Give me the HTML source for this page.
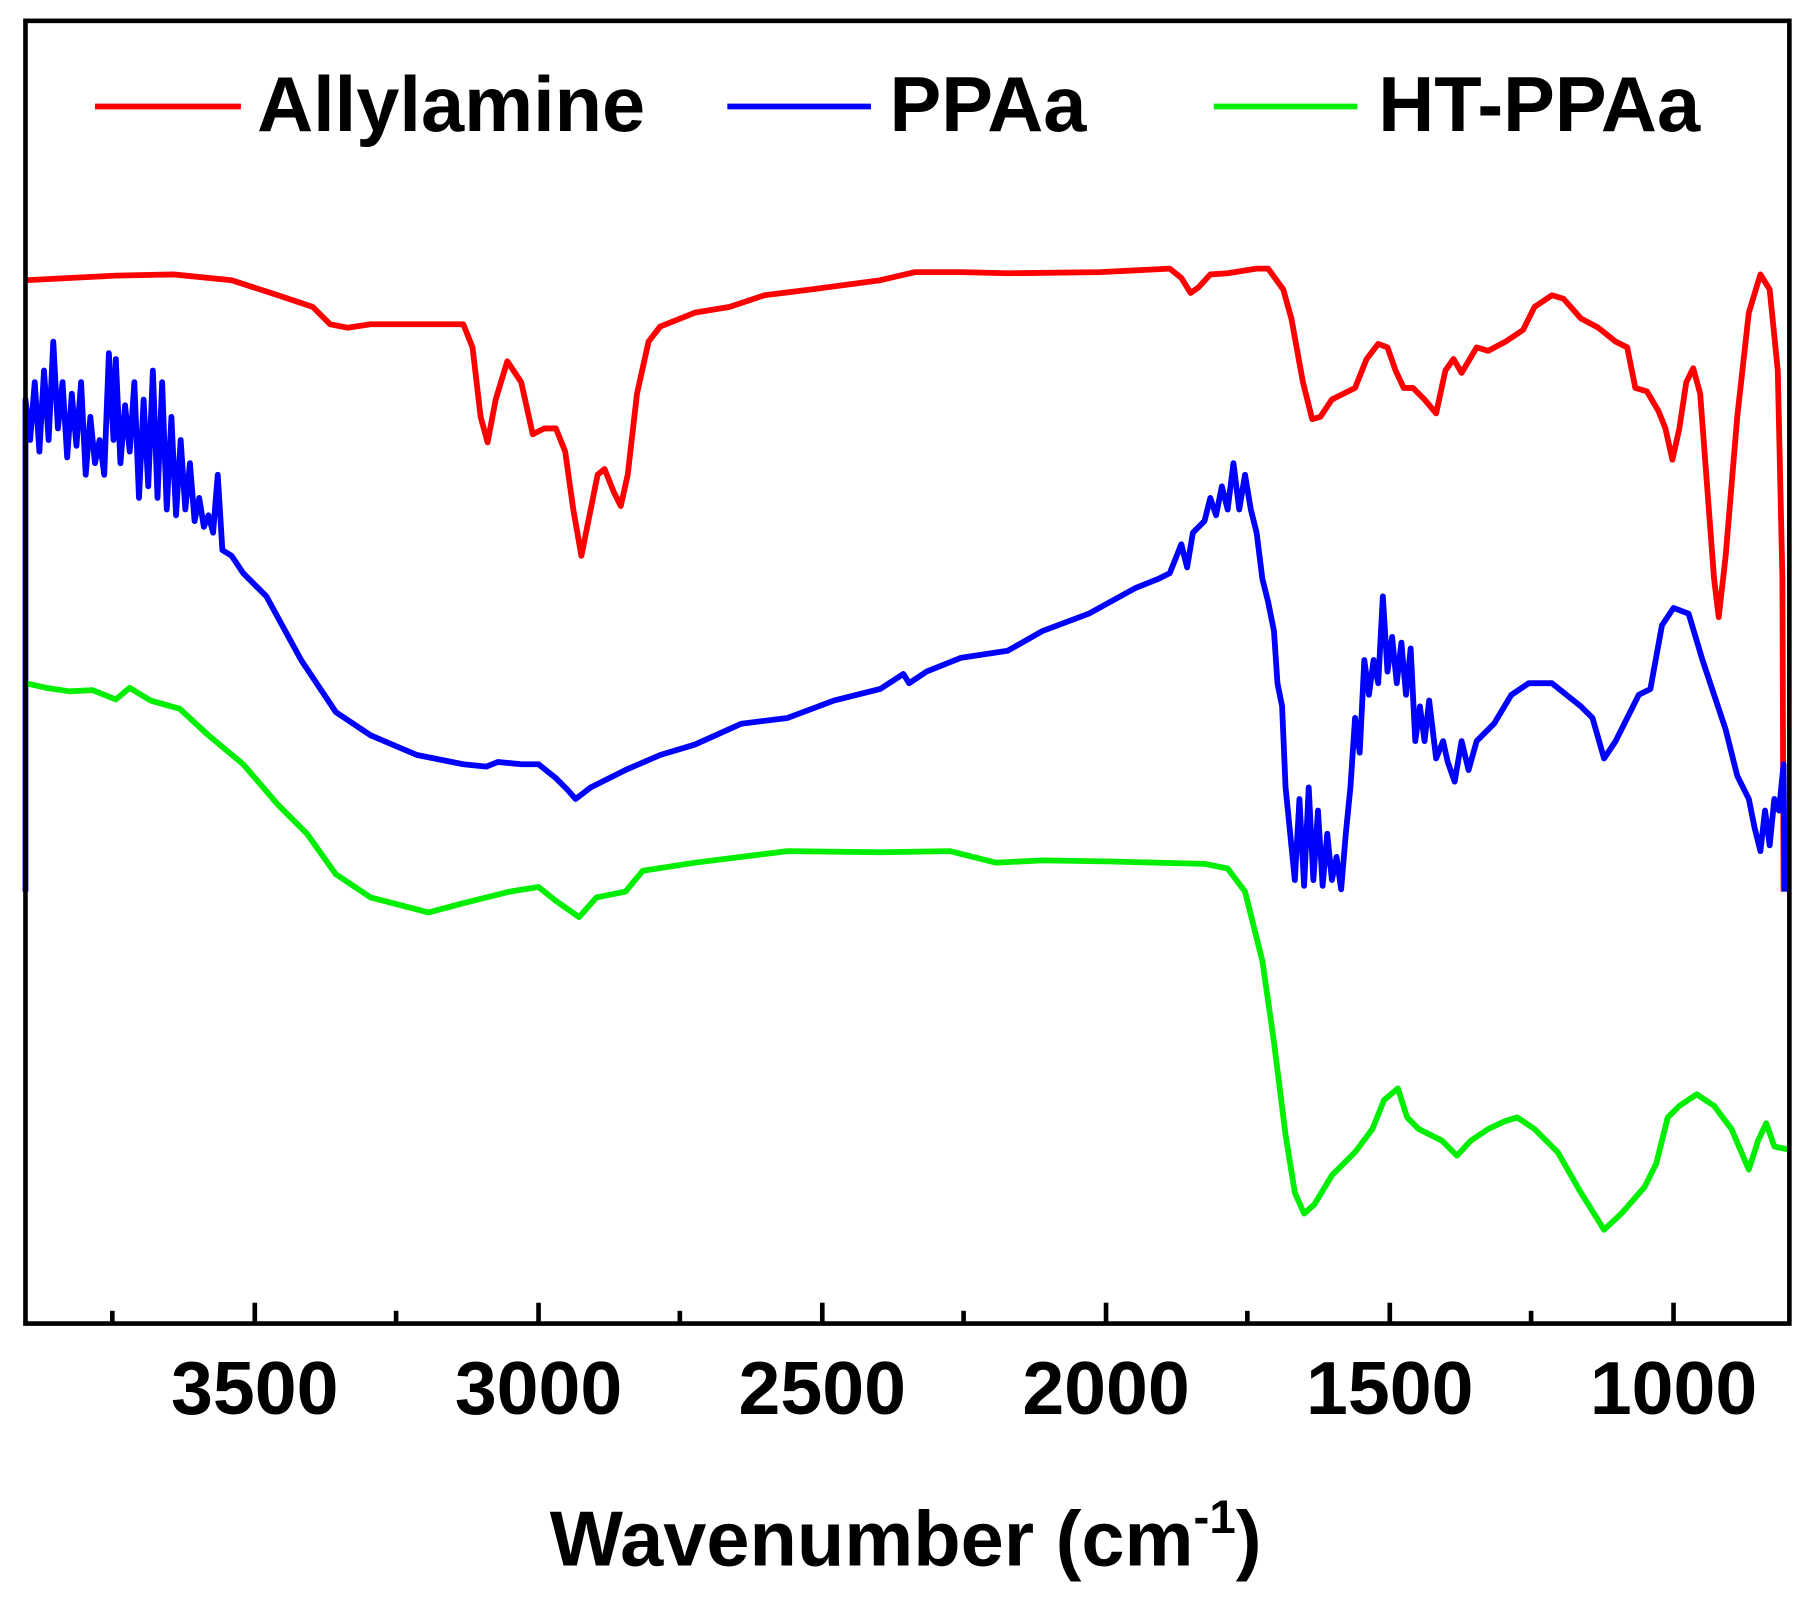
<!DOCTYPE html>
<html><head><style>html,body{margin:0;padding:0;background:#fff}svg{display:block}</style></head>
<body>
<svg width="1816" height="1598" viewBox="0 0 1568 1380" preserveAspectRatio="none" xmlns="http://www.w3.org/2000/svg">
<rect x="0" y="0" width="1568" height="1380" fill="#fff"/>
<g fill="none" stroke-width="5" stroke-linejoin="round">
<polyline stroke="#ff0000" points="22,242 100,238 150,237 200,242 240,255 270,265 285,280 300,283 320,280 400,280 408,300 415,360 421,382 428,345 438,312 450,330 460,375 470,370 480,370 488,390 495,440 502,480 508,450 516,410 522,405 530,425 536,437 542,410 550,340 560,295 570,282 600,270 630,265 660,255 700,250 760,242 790,235 830,235 870,236 950,235 1010,232 1020,240 1028,253 1035,248 1045,237 1060,236 1085,232 1095,232 1108,250 1115,275 1125,330 1133,362 1140,360 1150,345 1160,340 1170,335 1180,310 1190,297 1198,300 1205,320 1212,335 1220,335 1230,345 1240,357 1248,320 1255,310 1262,322 1275,300 1285,303 1300,295 1315,285 1325,265 1340,255 1350,258 1365,275 1380,283 1395,295 1405,300 1412,335 1422,338 1432,355 1438,370 1444,397 1450,370 1456,330 1462,318 1468,340 1474,420 1480,500 1484,533 1490,480 1500,360 1510,270 1520,237 1528,250 1535,320 1539,500 1540,770"/>
<polyline stroke="#0000ff" points="22,770 22,345 26,380 30,330 34,390 38,320 42,380 46,295 50,370 54,330 58,395 62,340 66,385 70,330 74,410 78,360 82,400 86,380 90,410 94,305 98,380 100,310 104,400 108,350 112,390 116,330 120,430 124,345 128,420 132,320 136,430 140,330 144,440 148,360 152,445 156,380 160,440 164,400 168,450 172,430 176,455 180,445 184,460 188,410 192,475 200,480 210,495 230,515 260,570 290,615 320,635 360,652 400,660 420,662 430,658 450,660 465,660 480,672 490,682 497,690 510,680 540,665 570,652 600,643 640,625 680,620 720,605 760,595 780,582 785,590 800,580 830,568 870,562 900,545 940,530 980,508 1000,500 1010,495 1020,470 1025,490 1030,460 1040,450 1045,430 1050,445 1055,420 1060,440 1065,400 1070,440 1075,410 1080,440 1085,460 1090,500 1095,520 1100,545 1103,590 1107,610 1110,680 1114,720 1118,760 1122,690 1126,765 1130,680 1134,760 1138,700 1142,765 1146,720 1150,760 1154,740 1158,768 1162,720 1166,680 1170,620 1174,650 1178,570 1182,600 1186,570 1190,590 1194,515 1198,580 1202,550 1206,590 1210,555 1214,600 1218,560 1222,640 1226,610 1230,640 1234,605 1240,655 1246,640 1250,658 1256,675 1262,640 1268,665 1275,640 1290,625 1305,600 1320,590 1340,590 1350,598 1365,610 1375,620 1385,655 1395,640 1405,620 1415,600 1425,595 1435,540 1445,525 1458,530 1470,570 1480,600 1490,630 1500,670 1510,690 1515,715 1520,735 1524,700 1528,730 1532,690 1536,700 1540,660 1541,770"/>
<polyline stroke="#00ee00" points="22,590 40,594 60,597 80,596 100,604 112,594 130,605 155,612 180,635 210,660 240,695 265,720 290,755 320,775 370,788 400,780 440,770 465,766 480,778 500,792 515,775 540,770 555,752 600,745 640,740 680,735 760,736 820,735 860,745 900,743 960,744 1040,746 1060,750 1075,770 1090,830 1100,900 1110,980 1118,1030 1126,1048 1135,1040 1150,1015 1170,995 1185,975 1195,950 1207,940 1215,965 1225,975 1245,985 1258,998 1270,985 1285,975 1300,968 1310,965 1325,975 1345,995 1365,1030 1385,1062 1400,1048 1420,1025 1430,1005 1440,965 1450,955 1465,945 1480,955 1495,975 1510,1010 1518,985 1525,970 1532,990 1545,993"/>
</g>
<rect x="22" y="18" width="1523" height="1125" fill="none" stroke="#000" stroke-width="4"/>
<g stroke="#000" stroke-width="4">
<line x1="220" y1="1143" x2="220" y2="1125"/><line x1="465" y1="1143" x2="465" y2="1125"/><line x1="710" y1="1143" x2="710" y2="1125"/><line x1="955" y1="1143" x2="955" y2="1125"/><line x1="1200" y1="1143" x2="1200" y2="1125"/><line x1="1445" y1="1143" x2="1445" y2="1125"/>
<line x1="97" y1="1143" x2="97" y2="1132"/><line x1="342" y1="1143" x2="342" y2="1132"/><line x1="587" y1="1143" x2="587" y2="1132"/><line x1="832" y1="1143" x2="832" y2="1132"/><line x1="1077" y1="1143" x2="1077" y2="1132"/><line x1="1322" y1="1143" x2="1322" y2="1132"/>
</g>
<g font-family="Liberation Sans, sans-serif" font-weight="bold" font-size="65" text-anchor="middle" fill="#000">
<text x="220" y="1221">3500</text><text x="465" y="1221">3000</text><text x="710" y="1221">2500</text><text x="955" y="1221">2000</text><text x="1200" y="1221">1500</text><text x="1445" y="1221">1000</text>
<text x="782" y="1352" font-size="67">Wavenumber (cm<tspan font-size="41" dy="-28">-1</tspan><tspan dy="28">)</tspan></text>
</g>
<g stroke-width="5"><line x1="82" y1="92" x2="208" y2="92" stroke="#ff0000"/><line x1="628" y1="92" x2="752" y2="92" stroke="#0000ff"/><line x1="1048" y1="92" x2="1172" y2="92" stroke="#00ee00"/></g>
<g font-family="Liberation Sans, sans-serif" font-weight="bold" font-size="67" fill="#000">
<text x="222" y="113">Allylamine</text><text x="768" y="113">PPAa</text><text x="1190" y="113">HT-PPAa</text>
</g>
</svg>
</body></html>
